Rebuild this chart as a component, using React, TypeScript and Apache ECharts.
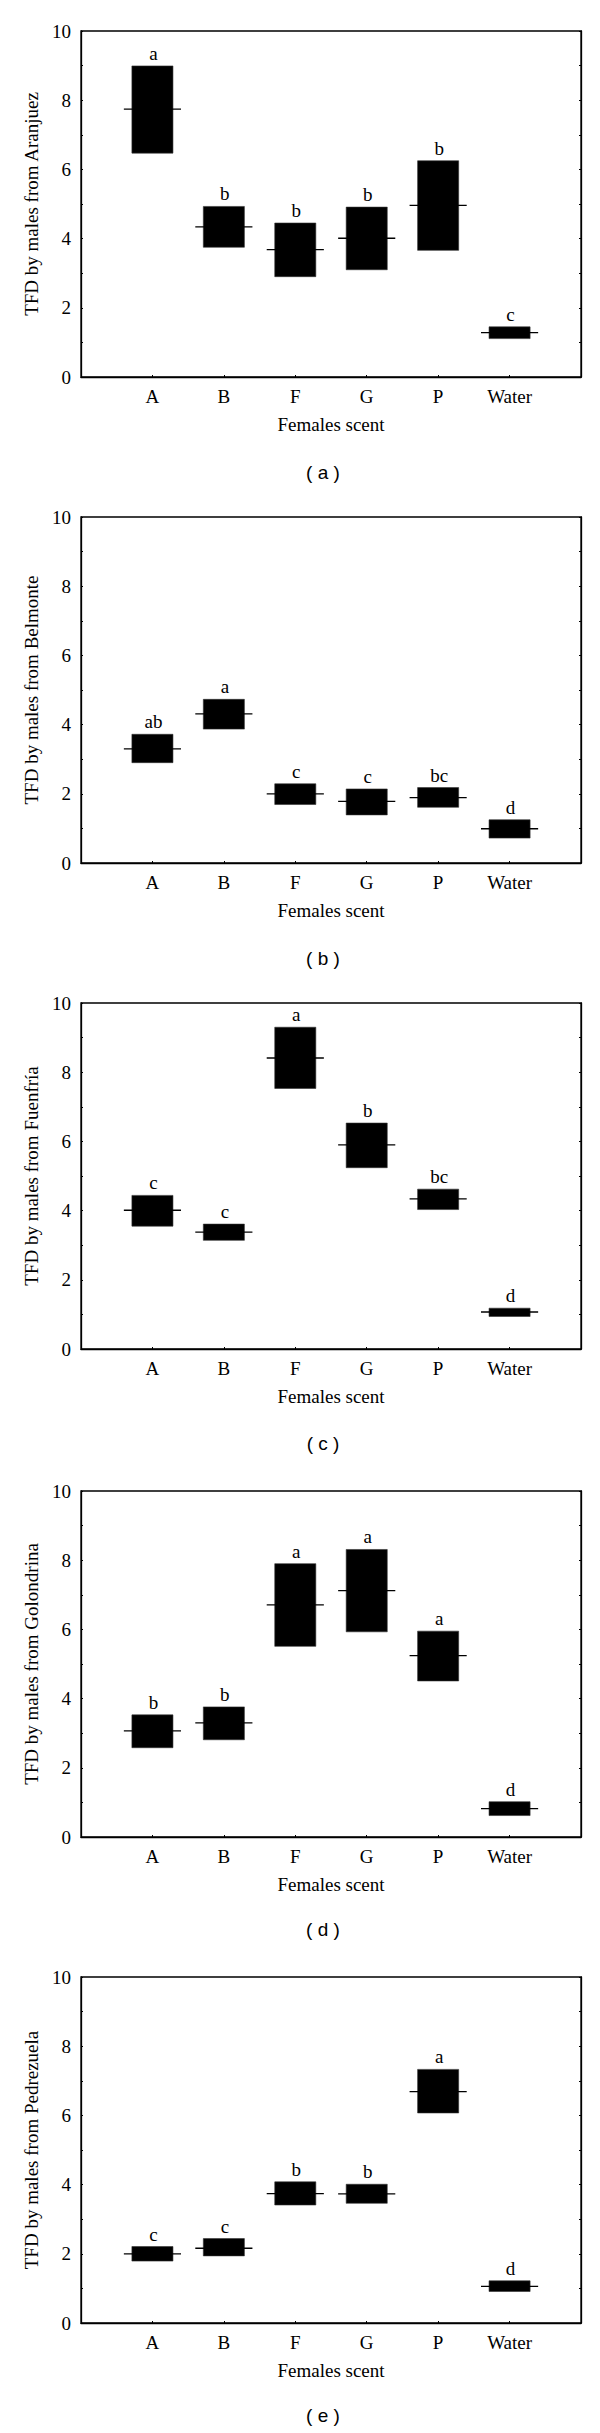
import React, { useEffect, useRef } from "react";
import * as echarts from "echarts";

const categories = ["A", "B", "F", "G", "P", "Water"];
const xTitle = "Females scent";

const yTitles = [
  "TFD by males from Aranjuez",
  "TFD by males from Belmonte",
  "TFD by males from Fuenfría",
  "TFD by males from Golondrina",
  "TFD by males from Pedrezuela",
];
const captions = ["( a )", "( b )", "( c )", "( d )", "( e )"];

// panel (a) Aranjuez
const highA = [8.99, 4.93, 4.45, 4.91, 6.25, 1.45];
const lowA = [6.47, 3.75, 2.9, 3.1, 3.66, 1.11];
const medA = [7.74, 4.34, 3.68, 4.01, 4.96, 1.28];
const letA = ["a", "b", "b", "b", "b", "c"];
// panel (b) Belmonte
const highB = [3.72, 4.73, 2.29, 2.14, 2.18, 1.25];
const lowB = [2.9, 3.87, 1.69, 1.39, 1.61, 0.72];
const medB = [3.3, 4.31, 2.0, 1.78, 1.89, 0.99];
const letB = ["ab", "a", "c", "c", "bc", "d"];
// panel (c) Fuenfría
const highC = [4.44, 3.61, 9.3, 6.53, 4.62, 1.18];
const lowC = [3.55, 3.14, 7.53, 5.24, 4.03, 0.94];
const medC = [4.01, 3.38, 8.41, 5.9, 4.34, 1.07];
const letC = ["c", "c", "a", "b", "bc", "d"];
// panel (d) Golondrina
const highD = [3.53, 3.76, 7.9, 8.31, 5.95, 1.02];
const lowD = [2.58, 2.81, 5.51, 5.93, 4.51, 0.62];
const medD = [3.07, 3.3, 6.71, 7.12, 5.24, 0.82];
const letD = ["b", "b", "a", "a", "a", "d"];
// panel (e) Pedrezuela
const highE = [2.21, 2.44, 4.08, 4.01, 7.33, 1.22];
const lowE = [1.79, 1.94, 3.41, 3.46, 6.07, 0.91];
const medE = [2.0, 2.16, 3.74, 3.73, 6.69, 1.06];
const letE = ["c", "c", "b", "b", "a", "d"];

const panels = [
  { high: highA, low: lowA, med: medA, letters: letA },
  { high: highB, low: lowB, med: medB, letters: letB },
  { high: highC, low: lowC, med: medC, letters: letC },
  { high: highD, low: lowD, med: medD, letters: letD },
  { high: highE, low: lowE, med: medE, letters: letE },
];

const yTicks = [0, 2, 4, 6, 8, 10];

const gridTops = [31, 517, 1003, 1491, 1977];
const gridHeight = 346;
const captionY = [472, 958, 1443, 1929, 2415];

const SERIF = '"Liberation Serif", "Times New Roman", serif';
const SANS = '"Liberation Sans", Arial, sans-serif';

export default function App() {
  const ref = useRef<HTMLDivElement>(null);

  useEffect(() => {
    if (!ref.current) return;
    const chart = echarts.init(ref.current, null, { renderer: "svg" });

    const grid: any[] = [];
    const xAxis: any[] = [];
    const yAxis: any[] = [];
    const series: any[] = [];
    const graphic: any[] = [];

    panels.forEach((p, i) => {
      grid.push({
        left: 81,
        width: 500,
        top: gridTops[i],
        height: gridHeight,
        show: true,
        borderColor: "#000",
        borderWidth: 1.3,
        backgroundColor: "transparent",
      });
      xAxis.push({
        type: "value",
        gridIndex: i,
        min: 0,
        max: categories.length + 1,
        interval: 1,
        name: xTitle,
        nameLocation: "middle",
        nameGap: 38,
        nameTextStyle: { fontFamily: SERIF, fontSize: 19, color: "#000" },
        axisLine: { show: true, lineStyle: { color: "#000", width: 1.3 } },
        axisTick: { show: true, inside: true, length: 2, lineStyle: { color: "#000" } },
        axisLabel: {
          margin: 10,
          fontFamily: SERIF,
          fontSize: 19,
          color: "#000",
          formatter: (v: number) =>
            v >= 1 && v <= categories.length ? categories[v - 1] : "",
        },
        splitLine: { show: false },
      });
      yAxis.push({
        type: "value",
        gridIndex: i,
        min: 0,
        max: 10,
        interval: 1,
        name: yTitles[i],
        nameLocation: "middle",
        nameGap: 40,
        nameTextStyle: { fontFamily: SERIF, fontSize: 19, color: "#000" },
        axisLine: { show: true, lineStyle: { color: "#000", width: 1.3 } },
        axisTick: { show: true, inside: true, length: 2, lineStyle: { color: "#000" } },
        axisLabel: {
          margin: 10,
          fontFamily: SERIF,
          fontSize: 19,
          color: "#000",
          formatter: (v: number) => (yTicks.indexOf(v) >= 0 ? String(v) : ""),
        },
        splitLine: { show: false },
      });
      yAxis.push({
        type: "value",
        gridIndex: i,
        position: "right",
        min: 0,
        max: 10,
        interval: 1,
        axisLine: { show: true, lineStyle: { color: "#000", width: 1.3 } },
        axisTick: { show: true, inside: true, length: 2, lineStyle: { color: "#000" } },
        axisLabel: { show: false },
        splitLine: { show: false },
      });

      const data = categories.map((_, k) => [k + 1, p.low[k], p.high[k], p.med[k]]);
      const letters = p.letters;
      series.push({
        type: "custom",
        xAxisIndex: i,
        yAxisIndex: i * 2,
        data,
        encode: { x: 0, y: [1, 2, 3] },
        renderItem: (params: any, api: any) => {
          const x = api.value(0);
          const lo = api.value(1);
          const hi = api.value(2);
          const md = api.value(3);
          const pt = api.coord([x, hi]);
          const pb = api.coord([x, lo]);
          const pm = api.coord([x, md]);
          const unit = api.size([1, 0])[0];
          const bw = unit * 0.575;
          const mw = unit * 0.8;
          return {
            type: "group",
            children: [
              {
                type: "rect",
                shape: { x: pt[0] - bw / 2, y: pt[1], width: bw, height: pb[1] - pt[1] },
                style: { fill: "#000", stroke: "#333", lineWidth: 0.6 },
              },
              {
                type: "line",
                shape: { x1: pm[0] - mw / 2, y1: pm[1], x2: pm[0] + mw / 2, y2: pm[1] },
                style: { stroke: "#000", lineWidth: 1.3 },
              },
              {
                type: "text",
                x: pt[0] + 1,
                y: pt[1] - 3,
                style: {
                  text: letters[params.dataIndex],
                  textAlign: "center",
                  textVerticalAlign: "bottom",
                  fontFamily: SERIF,
                  fontSize: 19,
                  fill: "#000",
                },
              },
            ],
          };
        },
      });

      graphic.push({
        type: "text",
        x: 323,
        y: captionY[i],
        style: {
          text: captions[i],
          textAlign: "center",
          textVerticalAlign: "middle",
          fontFamily: SANS,
          fontSize: 19,
          fill: "#000",
        },
      });
    });

    chart.setOption({
      animation: false,
      backgroundColor: "#fff",
      grid,
      xAxis,
      yAxis,
      series,
      graphic,
    });

    return () => chart.dispose();
  }, []);

  return (
    <div
      ref={ref}
      style={{ position: "absolute", left: 0, top: 0, width: 600, height: 2433 }}
    />
  );
}
